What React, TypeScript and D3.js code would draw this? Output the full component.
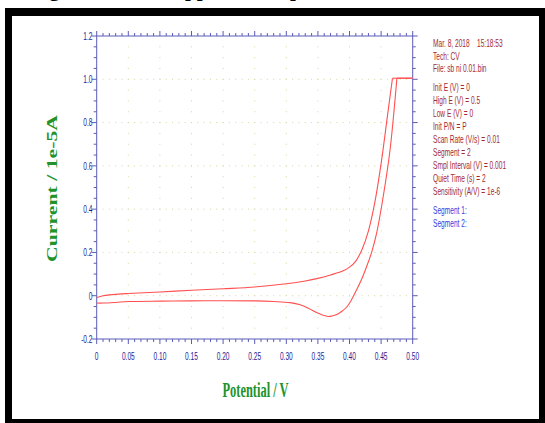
import React from "react";
import * as d3 from "d3";

const forwardV = [0, 0.01, 0.02, 0.05, 0.1, 0.15, 0.2, 0.25, 0.3, 0.33, 0.35, 0.37, 0.39, 0.4, 0.41, 0.42, 0.43, 0.44, 0.45, 0.46, 0.468, 0.5];
const forwardI = [-0.008, 0.0, 0.004, 0.01, 0.017, 0.025, 0.032, 0.04, 0.055, 0.068, 0.08, 0.096, 0.115, 0.132, 0.16, 0.215, 0.3, 0.43, 0.61, 0.83, 1.005, 1.005];
const returnV = [0.5, 0.475, 0.464, 0.454, 0.443, 0.435, 0.427, 0.419, 0.411, 0.403, 0.396, 0.388, 0.38, 0.372, 0.366, 0.358, 0.348, 0.335, 0.322, 0.306, 0.28, 0.25, 0.2, 0.15, 0.1, 0.05, 0.03, 0.01, 0.0];
const returnI = [1.005, 1.005, 0.67, 0.47, 0.29, 0.2, 0.134, 0.075, 0.026, -0.02, -0.051, -0.072, -0.087, -0.094, -0.096, -0.09, -0.078, -0.058, -0.042, -0.032, -0.027, -0.024, -0.023, -0.024, -0.025, -0.027, -0.031, -0.034, -0.034];

const xTicks = [0, 0.05, 0.1, 0.15, 0.2, 0.25, 0.3, 0.35, 0.4, 0.45, 0.5];
const xTickLabels = ["0", "0.05", "0.10", "0.15", "0.20", "0.25", "0.30", "0.35", "0.40", "0.45", "0.50"];
const yTicks = [-0.2, 0, 0.2, 0.4, 0.6, 0.8, 1.0, 1.2];
const yTickLabels = ["-0.2", "0", "0.2", "0.4", "0.6", "0.8", "1.0", "1.2"];

const infoLines = [
  "Mar. 8, 2018    15:18:53",
  "Tech: CV",
  "File: sb ni 0.01.bin",
  "",
  "Init E (V) = 0",
  "High E (V) = 0.5",
  "Low E (V) = 0",
  "Init P/N = P",
  "Scan Rate (V/s) = 0.01",
  "Segment = 2",
  "Smpl Interval (V) = 0.001",
  "Quiet Time (s) = 2",
  "Sensitivity (A/V) = 1e-6",
];
const segmentLines = ["Segment 1:", "Segment 2:"];

export default function App() {
  const W = 545, H = 423;
  const x = d3.scaleLinear().domain([0, 0.5]).range([96.7, 412.7]);
  const y = d3.scaleLinear().domain([-0.2, 1.2]).range([339, 36]);
  const axisColor = "#5c5cb8";
  const labelColor = "#1e1e96";
  const gridColor = "#d6d6a0";
  const infoColor = "#a42a30";

  const smooth = d3.line<[number, number]>()
    .x(d => x(d[0]))
    .y(d => y(d[1]))
    .curve(d3.curveCatmullRom.alpha(0.5));
  const straight = d3.line<[number, number]>()
    .x(d => x(d[0]))
    .y(d => y(d[1]));
  const fwd: [number, number][] = forwardV.map((v, i) => [v, forwardI[i]]);
  const ret: [number, number][] = returnV.map((v, i) => [v, returnI[i]]);
  const fwdCurve = fwd.slice(0, fwd.length - 1);
  const fwdFlat = fwd.slice(fwd.length - 2);
  const retFlat = ret.slice(0, 2);
  const retCurve = ret.slice(1);

  const minorX = d3.range(0, 51).map(i => i / 100);
  const minorY = d3.range(0, 29).map(i => -0.2 + i * 0.05);
  const gridX = xTicks.filter(v => v > 0 && v < 0.5);
  const gridY = yTicks.filter(v => v > -0.2 && v < 1.2);

  const x0 = x(0), x1 = x(0.5), yb = y(-0.2), yt = y(1.2);
  const red = "#ff5050";

  return (
    <svg width={W} height={H} style={{ position: "absolute", left: 0, top: 0, background: "#fff" }}>
      {/* caption remnant at top */}
      <g fontFamily="Liberation Serif" fontWeight="bold" fontSize={21} fill="#000">
        <text x={97} y={-4} textAnchor="end">Voltammogram</text>
        <text x={140} y={-4}>at</text>
        <text x={174.5} y={-4}>applied</text>
        <text x={290} y={-4}>potential</text>
      </g>
      {/* frame */}
      <rect x={5} y={8} width={540} height={415} fill="#000" />
      <rect x={12} y={16} width={527} height={403} fill="#fff" />

      {/* grid */}
      <g fill={gridColor}>
        {gridX.map(gv => minorY.filter(v => v > -0.19 && v < 1.19).map(mv => (
          <rect key={`gx${gv}-${mv}`} x={x(gv) - 0.5} y={y(mv) - 0.5} width={1} height={1} />
        )))}
        {gridY.map(gv => minorX.filter(v => v > 0.005 && v < 0.495).map(mv => (
          <rect key={`gy${gv}-${mv}`} x={x(mv) - 0.5} y={y(gv) - 0.5} width={1} height={1} />
        )))}
      </g>

      {/* axes box */}
      <rect x={x0} y={yt} width={x1 - x0} height={yb - yt} fill="none" stroke={axisColor} strokeWidth={1} />

      {/* ticks */}
      <g stroke={axisColor} strokeWidth={1}>
        {minorX.map((v, i) => {
          const len = i % 5 === 0 ? 5 : 3;
          return (
            <g key={`tx${i}`}>
              <line x1={x(v)} x2={x(v)} y1={yb} y2={yb + len} />
              <line x1={x(v)} x2={x(v)} y1={yt} y2={yt - len} />
            </g>
          );
        })}
        {minorY.map((v, i) => {
          const len = i % 4 === 0 ? 5 : 3;
          return (
            <g key={`ty${i}`}>
              <line x1={x0} x2={x0 - len} y1={y(v)} y2={y(v)} />
              <line x1={x1} x2={x1 + len} y1={y(v)} y2={y(v)} />
            </g>
          );
        })}
      </g>

      {/* tick labels */}
      <g fontFamily="Liberation Sans" fontSize={11} fill={labelColor}>
        {xTicks.map((v, i) => (
          <text key={`xl${i}`} transform={`translate(${x(v)},${360}) scale(0.6,1)`} textAnchor="middle">{xTickLabels[i]}</text>
        ))}
        {yTicks.map((v, i) => (
          <text key={`yl${i}`} transform={`translate(${92.5},${y(v) + 3.8}) scale(0.6,1)`} textAnchor="end">{yTickLabels[i]}</text>
        ))}
      </g>

      {/* curves */}
      <g fill="none" stroke={red} strokeWidth={1.1}>
        <path d={smooth(fwdCurve) || ""} />
        <path d={straight(fwdFlat) || ""} />
        <path d={straight(retFlat) || ""} />
        <path d={smooth(retCurve) || ""} />
      </g>

      {/* axis titles */}
      <text x={0} y={0} transform={`translate(255.5,397)`} textAnchor="middle" fontFamily="Liberation Serif" fontWeight="bold" fontSize={20} fill="#22922a" textLength={66} lengthAdjust="spacingAndGlyphs">Potential / V</text>
      <text transform={`translate(57,188.5) rotate(-90)`} textAnchor="middle" fontFamily="Liberation Serif" fontWeight="bold" fontSize={14} fill="#22922a" textLength={147} lengthAdjust="spacingAndGlyphs">Current / 1e-5A</text>

      {/* info panel */}
      <g fontFamily="Liberation Sans" fontSize={11} fill={infoColor}>
        {infoLines.map((t, i) => {
          const yy = i < 3 ? 47 + i * 12.5 : 91 + (i - 4) * 13;
          return t ? (
            <text key={`in${i}`} transform={`translate(433,${yy}) scale(0.6,1)`} xmlSpace="preserve">{t}</text>
          ) : null;
        })}
        {segmentLines.map((t, i) => (
          <text key={`sg${i}`} transform={`translate(433,${214 + i * 13}) scale(0.6,1)`} fill="#3838e0">{t}</text>
        ))}
      </g>
    </svg>
  );
}
